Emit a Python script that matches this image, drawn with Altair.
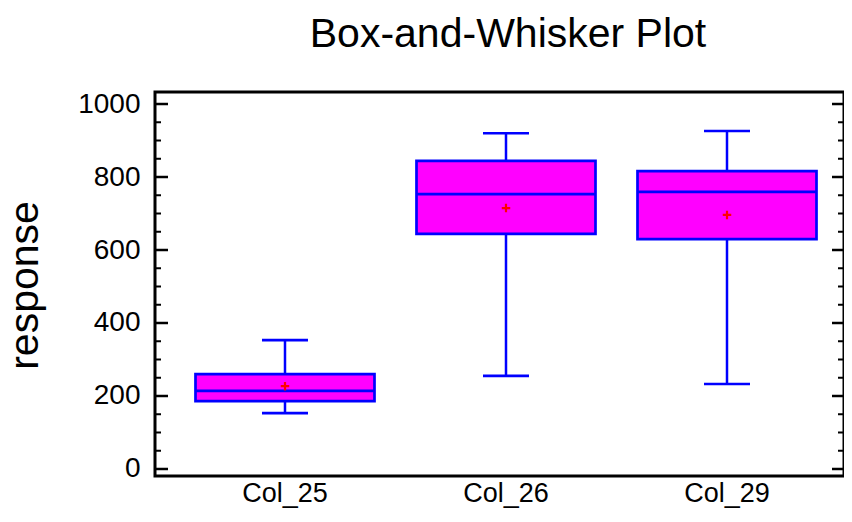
import altair as alt
import pandas as pd

# ---- data ----
cols = ["Col_25", "Col_26", "Col_29"]
lower_whisker = [153, 255, 233]
q1 = [186, 644, 630]
median = [214, 753, 759]
q3 = [260, 844, 816]
upper_whisker = [353, 920, 926]
mean = [227, 715, 696]

major_ticks = [0, 200, 400, 600, 800, 1000]
minor_ticks = [50, 100, 150, 250, 300, 350, 450, 500, 550, 650, 700, 750,
               850, 900, 950]

title_text = "Box-and-Whisker Plot"
y_title = "response"

df = pd.DataFrame({"col": cols, "lo": lower_whisker, "q1": q1, "med": median,
                   "q3": q3, "hi": upper_whisker, "mean": mean})
df_major = pd.DataFrame({"v": major_ticks})
df_minor = pd.DataFrame({"v": minor_ticks})
df_title = pd.DataFrame({"t": [title_text]})

BLUE = "#0000FF"
MAGENTA = "#FF00FF"
RED = "#FF0000"
FONT = "Liberation Sans"

W, H = 689, 384

yscale = alt.Scale(domain=[-19.2, 1032.9], nice=False, zero=False)
yaxis = alt.Axis(values=major_ticks, format="d", title=y_title, grid=False,
                 domain=False, ticks=False, tickSize=0, labelFontSize=28,
                 labelFont=FONT, labelColor="black", labelPadding=15,
                 titleFont=FONT, titleFontSize=41, titleFontWeight="normal",
                 titleColor="black", titleX=-118, titleY=193,
                 titleBaseline="alphabetic", titleAlign="center")
xscale = alt.Scale(paddingInner=0, paddingOuter=0.0588, align=0.75)
xaxis = alt.Axis(title=None, domain=False, ticks=False, labelAngle=0,
                 labelFontSize=27, labelFont=FONT, labelColor="black",
                 labelPadding=4, grid=False)


def X():
    return alt.X("col:N", scale=xscale, sort=cols, axis=xaxis)


def Y(field):
    return alt.Y(f"{field}:Q", scale=yscale, axis=yaxis)


base = alt.Chart(df)

whisk_lo = base.mark_rule(color=BLUE, strokeWidth=2.5).encode(
    x=X(), y=Y("lo"), y2="q1")
whisk_hi = base.mark_rule(color=BLUE, strokeWidth=2.5).encode(
    x=X(), y=Y("q3"), y2="hi")
boxes = base.mark_bar(size=179, color=MAGENTA, stroke=BLUE, strokeWidth=2.7,
                      opacity=1).encode(x=X(), y=Y("q1"), y2="q3")
med = base.mark_tick(size=179, thickness=2.7, color=BLUE, opacity=1).encode(
    x=X(), y=Y("med"))
cap_lo = base.mark_tick(size=46, thickness=2.6, color=BLUE, opacity=1).encode(
    x=X(), y=Y("lo"))
cap_hi = base.mark_tick(size=46, thickness=2.6, color=BLUE, opacity=1).encode(
    x=X(), y=Y("hi"))
mean_pt = base.mark_point(shape="M-1,0L1,0M0,-1L0,1", filled=False, stroke=RED,
                          strokeWidth=2.2, size=72, opacity=1).encode(
    x=X(), y=Y("mean"))

tick_l_major = alt.Chart(df_major).mark_rule(color="black", strokeWidth=2.5).encode(
    y=Y("v"), x=alt.value(0), x2=alt.value(13))
tick_r_major = alt.Chart(df_major).mark_rule(color="black", strokeWidth=2.5).encode(
    y=Y("v"), x=alt.value(W - 12), x2=alt.value(W))
tick_l_minor = alt.Chart(df_minor).mark_rule(color="black", strokeWidth=2).encode(
    y=Y("v"), x=alt.value(0), x2=alt.value(6))
tick_r_minor = alt.Chart(df_minor).mark_rule(color="black", strokeWidth=2).encode(
    y=Y("v"), x=alt.value(W - 6), x2=alt.value(W))

title = alt.Chart(df_title).mark_text(
    font=FONT, fontSize=41, color="black", align="center",
    baseline="alphabetic").encode(
    text="t:N", x=alt.value(353), y=alt.value(-45))

chart = alt.layer(
    whisk_lo, whisk_hi, boxes, med, cap_lo, cap_hi, mean_pt,
    tick_l_major, tick_r_major, tick_l_minor, tick_r_minor, title
).properties(
    width=W, height=H,
    padding={"left": 147, "top": 84, "right": 0, "bottom": 32},
    autosize=alt.AutoSizeParams(type="none"),
).configure_view(stroke="black", strokeWidth=3)

chart.save("out.html", embed_options={"renderer": "svg", "actions": False})
